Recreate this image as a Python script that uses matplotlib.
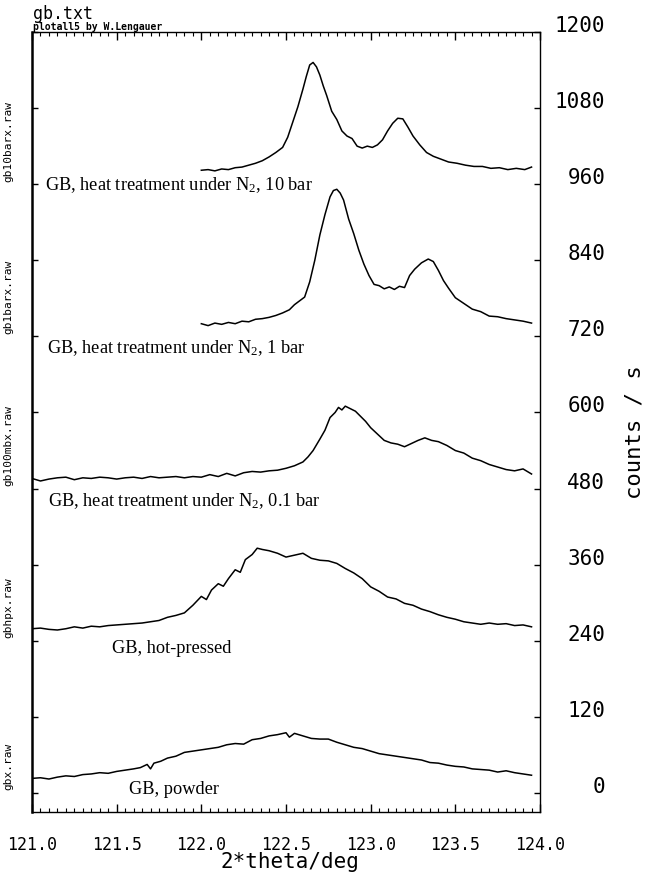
import matplotlib
matplotlib.use("Agg")
import matplotlib.pyplot as plt
from matplotlib.ticker import MultipleLocator
from matplotlib.transforms import blended_transform_factory

# --- data (2theta in deg, counts/s incl. stacking offset) ---
x_powder = [121.00, 121.05, 121.10, 121.15, 121.20, 121.25, 121.30, 121.35, 121.40, 121.45,
            121.50, 121.55, 121.60, 121.64, 121.68, 121.70, 121.72, 121.76, 121.80, 121.85,
            121.90, 121.95, 122.00, 122.05, 122.10, 122.15, 122.20, 122.25, 122.30, 122.35,
            122.40, 122.45, 122.50, 122.52, 122.55, 122.60, 122.65, 122.70, 122.75, 122.80,
            122.85, 122.90, 122.95, 123.00, 123.05, 123.10, 123.15, 123.20, 123.25, 123.30,
            123.35, 123.40, 123.45, 123.50, 123.55, 123.60, 123.65, 123.70, 123.75, 123.80,
            123.85, 123.90, 123.95]
y_powder = [23, 24, 22, 25, 27, 26, 29, 30, 32, 31,
            34, 36, 38, 40, 45, 38, 47, 50, 55, 58,
            64, 66, 68, 70, 72, 76, 78, 77, 84, 86,
            90, 92, 95, 88, 94, 90, 86, 85, 85, 80,
            76, 72, 70, 66, 62, 60, 58, 56, 54, 52,
            48, 47, 44, 42, 41, 38, 37, 36, 33, 35,
            32, 30, 28]

x_hp = [121.00, 121.05, 121.10, 121.15, 121.20, 121.25, 121.30, 121.35, 121.40, 121.45,
        121.50, 121.55, 121.60, 121.65, 121.70, 121.75, 121.80, 121.85, 121.90, 121.95,
        122.00, 122.03, 122.06, 122.10, 122.13, 122.16, 122.20, 122.23, 122.26, 122.30,
        122.33, 122.36, 122.40, 122.45, 122.50, 122.55, 122.60, 122.65, 122.70, 122.75,
        122.80, 122.85, 122.90, 122.95, 123.00, 123.05, 123.10, 123.15, 123.20, 123.25,
        123.30, 123.35, 123.40, 123.45, 123.50, 123.55, 123.60, 123.65, 123.70, 123.75,
        123.80, 123.85, 123.90, 123.95]
y_hp = [259, 260, 258, 257, 259, 262, 260, 263, 262, 264,
        265, 266, 267, 268, 270, 272, 277, 280, 284, 296,
        310, 305, 320, 330, 326, 338, 352, 348, 368, 376,
        386, 384, 382, 378, 372, 375, 378, 370, 367, 366,
        362, 354, 347, 338, 325, 318, 309, 306, 299, 296,
        290, 286, 281, 277, 274, 270, 268, 266, 268, 266,
        267, 264, 265, 262]

x_01bar = [121.00, 121.05, 121.10, 121.15, 121.20, 121.25, 121.30, 121.35, 121.40, 121.45,
           121.50, 121.55, 121.60, 121.65, 121.70, 121.75, 121.80, 121.85, 121.90, 121.95,
           122.00, 122.05, 122.10, 122.15, 122.20, 122.25, 122.30, 122.35, 122.40, 122.45,
           122.50, 122.55, 122.60, 122.63, 122.66, 122.70, 122.73, 122.76, 122.79, 122.81,
           122.83, 122.85, 122.88, 122.91, 122.94, 122.97, 123.00, 123.04, 123.08, 123.12,
           123.16, 123.20, 123.24, 123.28, 123.32, 123.36, 123.40, 123.45, 123.50, 123.55,
           123.60, 123.65, 123.70, 123.75, 123.80, 123.85, 123.90, 123.95]
y_01bar = [496, 492, 495, 497, 498, 494, 497, 496, 498, 497,
           495, 497, 498, 496, 499, 497, 498, 499, 497, 499,
           498, 502, 499, 504, 500, 505, 507, 506, 508, 509,
           512, 516, 522, 530, 540, 558, 572, 592, 600, 608,
           604, 610, 606, 602, 594, 586, 576, 566, 556, 552,
           550, 546, 551, 556, 560, 556, 554, 548, 540, 536,
           528, 524, 518, 514, 510, 508, 511, 503]

x_1bar = [122.00, 122.04, 122.08, 122.12, 122.16, 122.20, 122.24, 122.28, 122.32, 122.36,
          122.40, 122.44, 122.48, 122.52, 122.55, 122.58, 122.61, 122.64, 122.67, 122.70,
          122.73, 122.76, 122.78, 122.80, 122.82, 122.84, 122.87, 122.90, 122.93, 122.96,
          122.99, 123.02, 123.05, 123.08, 123.11, 123.14, 123.17, 123.20, 123.23, 123.26,
          123.30, 123.34, 123.37, 123.40, 123.43, 123.46, 123.50, 123.55, 123.60, 123.65,
          123.70, 123.75, 123.80, 123.85, 123.90, 123.95]
y_1bar = [740, 737, 741, 739, 742, 740, 744, 743, 747, 748,
          750, 753, 757, 762, 770, 776, 782, 806, 840, 880,
          912, 940, 950, 952, 946, 935, 905, 882, 856, 834,
          816, 802, 800, 795, 798, 794, 799, 797, 816, 826,
          836, 842, 838, 824, 808, 796, 781, 772, 763, 759,
          752, 751, 748, 746, 744, 741]

x_10bar = [122.00, 122.04, 122.08, 122.12, 122.16, 122.20, 122.24, 122.28, 122.32, 122.36,
           122.40, 122.44, 122.48, 122.51, 122.54, 122.57, 122.60, 122.62, 122.64, 122.66,
           122.68, 122.70, 122.72, 122.74, 122.77, 122.80, 122.83, 122.86, 122.89, 122.92,
           122.95, 122.98, 123.01, 123.04, 123.07, 123.10, 123.13, 123.16, 123.19, 123.22,
           123.25, 123.29, 123.33, 123.37, 123.41, 123.46, 123.51, 123.56, 123.61, 123.66,
           123.71, 123.76, 123.81, 123.86, 123.91, 123.95]
y_10bar = [982, 983, 981, 984, 983, 986, 987, 990, 993, 997,
           1003, 1010, 1018, 1034, 1058, 1082, 1110, 1130, 1148, 1152,
           1145, 1132, 1115, 1100, 1075, 1062, 1044, 1036, 1032, 1020,
           1017, 1020, 1018, 1022, 1030, 1044, 1056, 1064, 1063, 1050,
           1036, 1022, 1010, 1004, 1000, 995, 993, 990, 988, 988,
           985, 986, 983, 985, 983, 987]

file_names = ["gbx.raw", "gbhpx.raw", "gb100mbx.raw", "gb1barx.raw", "gb10barx.raw"]
file_base = [0, 240, 480, 720, 960]
sample_labels = [
    "GB, powder",
    "GB, hot-pressed",
    r"GB, heat treatment under N$_\mathrm{2}$, 0.1 bar",
    r"GB, heat treatment under N$_\mathrm{2}$, 1 bar",
    r"GB, heat treatment under N$_\mathrm{2}$, 10 bar",
]
yticks = [0, 120, 240, 360, 480, 600, 720, 840, 960, 1080, 1200]
xticks = [121.0, 121.5, 122.0, 122.5, 123.0, 123.5, 124.0]

plt.rcParams["mathtext.fontset"] = "custom"
plt.rcParams["mathtext.rm"] = "Liberation Serif"
plt.rcParams["mathtext.it"] = "Liberation Serif:italic"
plt.rcParams["mathtext.bf"] = "Liberation Serif:bold"

mono = "DejaVu Sans Mono"

fig = plt.figure(figsize=(6.5, 8.81), dpi=100)
ax = fig.add_axes([32 / 650, 69 / 881, 508 / 650, 780 / 881])

series = [(x_powder, y_powder), (x_hp, y_hp), (x_01bar, y_01bar),
          (x_1bar, y_1bar), (x_10bar, y_10bar)]
for xs, ys in series:
    ax.plot(xs, ys, color="black", lw=1.1)

ax.set_xlim(121.0, 124.0)
ax.set_ylim(-30, 1200)

# x axis: labelled bottom, ticks in on top and bottom
ax.set_xticks(xticks)
ax.set_xticklabels(["%.1f" % v for v in xticks], family=mono, fontsize=12)
ax.xaxis.set_minor_locator(MultipleLocator(0.05))
ax.tick_params(axis="x", which="major", direction="in", top=True, bottom=True,
               length=6, width=1.0, pad=17)
ax.tick_params(axis="x", which="minor", direction="in", top=True, bottom=True,
               length=3, width=0.8)

# y axis: labels on the right only
ax.set_yticks(yticks)
ax.set_yticklabels([str(v) for v in yticks], family=mono, fontsize=15)
ax.tick_params(axis="y", which="major", direction="in", left=True, right=True,
               labelleft=False, labelright=True, length=4, width=1.0, pad=47)
for lab in ax.get_yticklabels():
    lab.set_horizontalalignment("right")
    lab.set_verticalalignment("baseline")

for name, sp in ax.spines.items():
    sp.set_linewidth(1.0)
ax.spines["left"].set_linewidth(1.8)

# file names rotated along the left spine
trans = blended_transform_factory(ax.transAxes, ax.transData)
for name, base in zip(file_names, file_base):
    ax.text(-0.047, base + 4, name, transform=trans, rotation=90,
            ha="center", va="bottom", family=mono, fontsize=8)

# sample annotations
label_pos = [(121.57, 5), (121.47, 228), (121.095, 461), (121.09, 701), (121.077, 958)]
for (lx, ly), txt in zip(label_pos, sample_labels):
    ax.text(lx, ly, txt, family="Liberation Serif", fontsize=13.2,
            ha="left", va="center")

fig.text(33 / 650, 1 - 14 / 881, "gb.txt", family=mono, fontsize=12,
         ha="left", va="center")
fig.text(33 / 650, 1 - 27 / 881, "plotall5 by W.Lengauer", family=mono,
         fontsize=7, fontweight="bold", ha="left", va="center")

fig.text(290 / 650, 1 - 862 / 881, "2*theta/deg", family=mono, fontsize=15,
         ha="center", va="center")
fig.text(634 / 650, 1 - 432 / 881, "counts / s", family=mono, fontsize=16,
         rotation=90, ha="center", va="center")

fig.savefig("out.png", dpi=100)
